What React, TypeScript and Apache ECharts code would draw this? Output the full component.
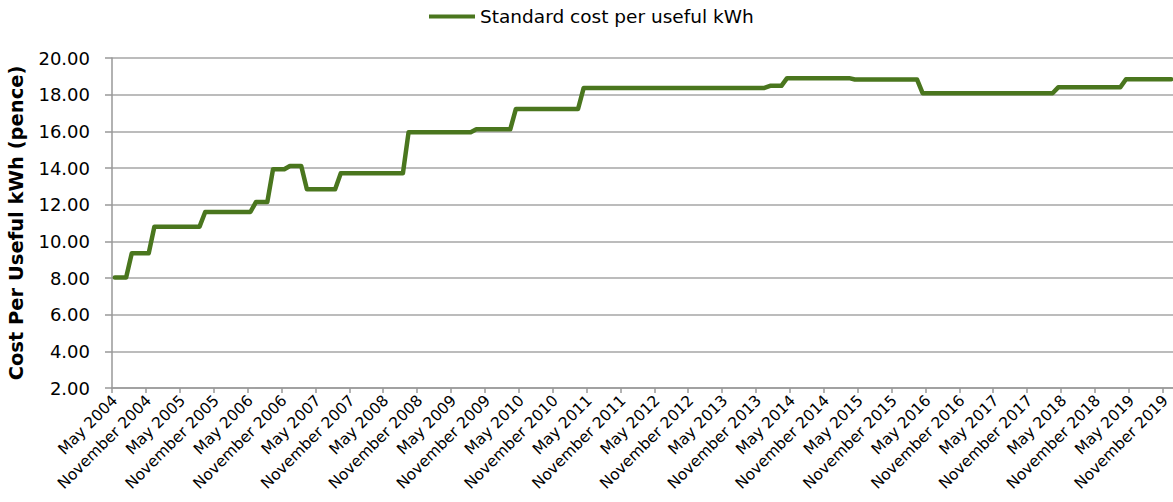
import React, { useEffect, useRef } from "react";
import * as echarts from "echarts";

const MONTH_NAMES = [
  "January", "February", "March", "April", "May", "June",
  "July", "August", "September", "October", "November", "December",
];
const START_YEAR = 2004;
const START_MONTH = 4; // May (0-based)

// Standard cost per useful kWh (pence), monthly from May 2004 to December 2019
const values2004 = [8.03, 8.03, 8.03, 9.35, 9.35, 9.35, 9.35, 10.8]; // May-Dec
const values2005 = [10.8, 10.8, 10.8, 10.8, 10.8, 10.8, 10.8, 10.8, 11.6, 11.6, 11.6, 11.6];
const values2006 = [11.6, 11.6, 11.6, 11.6, 11.6, 12.15, 12.15, 12.15, 13.93, 13.93, 13.93, 14.11];
const values2007 = [14.11, 14.11, 12.84, 12.84, 12.84, 12.84, 12.84, 12.84, 13.71, 13.71, 13.71, 13.71];
const values2008 = [13.71, 13.71, 13.71, 13.71, 13.71, 13.71, 13.71, 13.71, 15.95, 15.95, 15.95, 15.95];
const values2009 = [15.95, 15.95, 15.95, 15.95, 15.95, 15.95, 15.95, 15.95, 16.11, 16.11, 16.11, 16.11];
const values2010 = [16.11, 16.11, 16.11, 17.22, 17.22, 17.22, 17.22, 17.22, 17.22, 17.22, 17.22, 17.22];
const values2011 = [17.22, 17.22, 17.22, 18.37, 18.37, 18.37, 18.37, 18.37, 18.37, 18.37, 18.37, 18.37];
const values2012 = [18.37, 18.37, 18.37, 18.37, 18.37, 18.37, 18.37, 18.37, 18.37, 18.37, 18.37, 18.37];
const values2013 = [18.37, 18.37, 18.37, 18.37, 18.37, 18.37, 18.37, 18.37, 18.37, 18.37, 18.37, 18.37];
const values2014 = [18.48, 18.48, 18.48, 18.9, 18.9, 18.9, 18.9, 18.9, 18.9, 18.9, 18.9, 18.9];
const values2015 = [18.9, 18.9, 18.9, 18.83, 18.83, 18.83, 18.83, 18.83, 18.83, 18.83, 18.83, 18.83];
const values2016 = [18.83, 18.83, 18.83, 18.08, 18.08, 18.08, 18.08, 18.08, 18.08, 18.08, 18.08, 18.08];
const values2017 = [18.08, 18.08, 18.08, 18.08, 18.08, 18.08, 18.08, 18.08, 18.08, 18.08, 18.08, 18.08];
const values2018 = [18.08, 18.08, 18.08, 18.4, 18.4, 18.4, 18.4, 18.4, 18.4, 18.4, 18.4, 18.4];
const values2019 = [18.4, 18.4, 18.4, 18.84, 18.84, 18.84, 18.84, 18.84, 18.84, 18.84, 18.84, 18.84];

const costValues = [
  ...values2004, ...values2005, ...values2006, ...values2007,
  ...values2008, ...values2009, ...values2010, ...values2011,
  ...values2012, ...values2013, ...values2014, ...values2015,
  ...values2016, ...values2017, ...values2018, ...values2019,
];

const categories = costValues.map((_, i) => {
  const m = START_MONTH + i;
  return `${MONTH_NAMES[m % 12]} ${START_YEAR + Math.floor(m / 12)}`;
});

const SERIES_NAME = "Standard cost per useful kWh";
const Y_NAME = "Cost Per Useful kWh (pence)";
const FONT = "DejaVu Sans";

export default function App() {
  const ref = useRef<HTMLDivElement>(null);
  useEffect(() => {
    if (!ref.current) return;
    const chart = echarts.init(ref.current, null, { renderer: "svg" });
    chart.setOption({
      animation: false,
      backgroundColor: "#ffffff",
      legend: {
        top: 7,
        left: 429,
        padding: 0,
        itemWidth: 46,
        itemHeight: 4,
        itemGap: 2,
        icon: "rect",
        data: [SERIES_NAME],
        textStyle: { fontFamily: FONT, fontSize: 18.5, color: "#000" },
      },
      grid: {
        left: 112,
        right: -1,
        top: 58,
        bottom: 114,
        containLabel: false,
        outerBoundsMode: "none",
      },
      xAxis: {
        type: "category",
        data: categories,
        boundaryGap: true,
        axisLine: { show: true, lineStyle: { color: "#999999", width: 1.5 } },
        axisTick: { show: true, interval: 5, length: 5, lineStyle: { color: "#999999", width: 1.5 } },
        axisLabel: {
          interval: 5,
          rotate: 45,
          margin: 10,
          fontFamily: FONT,
          fontSize: 15.5,
          color: "#000",
        },
        splitLine: { show: false },
      },
      yAxis: {
        type: "value",
        min: 2,
        max: 20,
        interval: 2,
        name: Y_NAME,
        nameLocation: "middle",
        nameGap: 86,
        nameTextStyle: { fontFamily: FONT, fontSize: 19.5, fontWeight: "bold", color: "#000" },
        axisLine: { show: true, lineStyle: { color: "#999999", width: 1.5 } },
        axisTick: { show: true, length: 7, lineStyle: { color: "#999999", width: 1.5 } },
        axisLabel: {
          margin: 22,
          fontFamily: FONT,
          fontSize: 18,
          color: "#000",
          formatter: (v: number) => v.toFixed(2),
        },
        splitLine: { show: true, lineStyle: { color: "#a6a6a6", width: 1.5 } },
      },
      series: [
        {
          name: SERIES_NAME,
          type: "line",
          data: costValues,
          symbol: "none",
          lineStyle: { color: "#4a761e", width: 4.5, cap: "round", join: "round" },
          itemStyle: { color: "#4a761e" },
        },
      ],
    });
    return () => chart.dispose();
  }, []);
  return (
    <div
      ref={ref}
      style={{ position: "absolute", left: 0, top: 0, width: 1173, height: 502 }}
    />
  );
}
